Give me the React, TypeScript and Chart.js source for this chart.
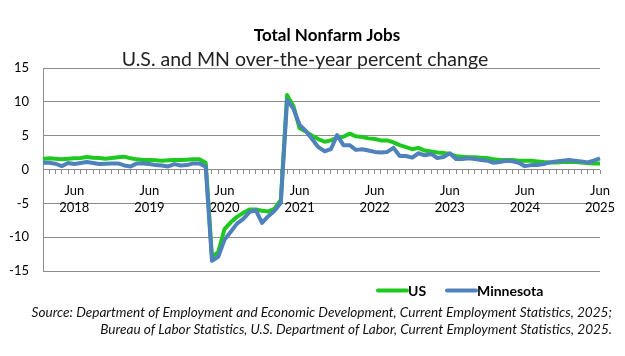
import { useEffect, useRef } from 'react';
import { Chart, registerables } from 'chart.js';

Chart.register(...registerables);

const years = [2018, 2019, 2020, 2021, 2022, 2023, 2024, 2025];
const monthNames = ['Jan', 'Feb', 'Mar', 'Apr', 'May', 'Jun', 'Jul', 'Aug', 'Sep', 'Oct', 'Nov', 'Dec'];
const lastMonthOf2025 = 6;

const categories: string[] = [];
years.forEach((y) =>
  monthNames.forEach((m, k) => {
    if (y < 2025 || k < lastMonthOf2025) categories.push(`${m} ${y}`);
  })
);

const usValues = [
  // 2018
  1.55, 1.65, 1.6, 1.5, 1.6, 1.65, 1.7, 1.85, 1.75, 1.7, 1.6, 1.7,
  // 2019
  1.8, 1.9, 1.65, 1.5, 1.4, 1.4, 1.35, 1.3, 1.35, 1.4, 1.4, 1.45,
  // 2020
  1.5, 1.5, 1.0, -12.9, -12.2, -8.8, -7.8, -7.0, -6.4, -5.9, -5.9, -6.1,
  // 2021
  -6.2, -5.8, -4.5, 11.0, 9.4, 6.1, 5.6, 5.0, 4.5, 4.1, 4.3, 4.7,
  // 2022
  4.85, 5.3, 4.9, 4.8, 4.6, 4.5, 4.3, 4.3, 4.0, 3.6, 3.3, 3.0,
  // 2023
  3.2, 2.8, 2.65, 2.5, 2.45, 2.3, 1.95, 1.9, 1.8, 1.8, 1.75, 1.7,
  // 2024
  1.5, 1.4, 1.4, 1.4, 1.3, 1.3, 1.3, 1.2, 1.1, 1.05, 1.05, 1.1,
  // 2025
  1.15, 1.1, 1.05, 0.95, 0.9, 0.9,
];

const mnValues = [
  // 2018
  1.0, 1.0, 0.85, 0.5, 0.95, 0.8, 0.95, 1.1, 0.95, 0.8, 0.85, 0.9,
  // 2019
  0.9, 0.6, 0.45, 0.9, 0.9, 0.8, 0.65, 0.6, 0.45, 0.8, 0.6, 0.65,
  // 2020
  0.9, 0.9, 0.4, -13.5, -12.9, -10.4, -9.2, -8.0, -7.3, -6.3, -6.0, -7.9,
  // 2021
  -6.9, -6.1, -4.9, 10.3, 9.0, 6.6, 5.7, 4.5, 3.3, 2.7, 3.0, 5.1,
  // 2022
  3.6, 3.6, 2.9, 3.0, 2.8, 2.6, 2.5, 2.6, 3.2, 2.0, 2.0, 1.75,
  // 2023
  2.4, 2.1, 2.3, 1.7, 1.85, 2.4, 1.55, 1.55, 1.65, 1.55, 1.4, 1.3,
  // 2024
  1.0, 1.1, 1.3, 1.2, 1.0, 0.5, 0.65, 0.65, 0.8, 1.05, 1.2, 1.3,
  // 2025
  1.4, 1.3, 1.2, 1.05, 1.3, 1.65,
];

const seriesNames = ['US', 'Minnesota'];
const titleText = 'Total Nonfarm Jobs';
const subtitleText = 'U.S. and MN over-the-year percent change';
const sourceLines = [
  'Source: Department of Employment and Economic Development, Current Employment Statistics, 2025;',
  'Bureau of Labor Statistics, U.S. Department of Labor, Current Employment Statistics, 2025.',
];

const GREEN = '#1fc81f';
const BLUE = '#4f81bd';
const GRID = '#8c8c8c';
const FONT = 'Lato, "Open Sans", sans-serif';

const textPlugin = {
  id: 'textPlugin',
  afterDraw(chart: any) {
    const ctx = chart.ctx as CanvasRenderingContext2D;
    ctx.save();
    ctx.fillStyle = '#000';
    ctx.textBaseline = 'alphabetic';
    ctx.textAlign = 'center';
    ctx.font = `bold 17px ${FONT}`;
    ctx.fillText(titleText, 327, 41);
    ctx.fillStyle = '#222';
    ctx.font = `19.5px ${FONT}`;
    ctx.fillText(subtitleText, 305, 66);

    // legend
    const items = [
      { x: 378, color: GREEN, label: seriesNames[0] },
      { x: 447, color: BLUE, label: seriesNames[1] },
    ];
    ctx.textAlign = 'left';
    ctx.font = `bold 14px ${FONT}`;
    items.forEach((it) => {
      ctx.strokeStyle = it.color;
      ctx.lineWidth = 4;
      ctx.lineCap = 'round';
      ctx.beginPath();
      ctx.moveTo(it.x, 290.5);
      ctx.lineTo(it.x + 29, 290.5);
      ctx.stroke();
      ctx.fillStyle = '#000';
      ctx.fillText(it.label, it.x + 30, 295.5);
    });

    // source
    ctx.textAlign = 'right';
    ctx.fillStyle = '#111';
    ctx.font = `italic 13.6px ${FONT}`;
    ctx.fillText(sourceLines[0], 612, 317);
    ctx.fillText(sourceLines[1], 612, 334);
    ctx.restore();
  },
};

export default function App() {
  const canvasRef = useRef<HTMLCanvasElement | null>(null);

  useEffect(() => {
    if (!canvasRef.current) return;
    const chart = new Chart(canvasRef.current, {
      type: 'line',
      data: {
        labels: categories,
        datasets: [
          {
            label: seriesNames[0],
            data: usValues,
            borderColor: GREEN,
            backgroundColor: GREEN,
            borderWidth: 4,
            pointRadius: 0,
            tension: 0,
            fill: false,
            borderJoinStyle: 'round',
            order: 2,
          },
          {
            label: seriesNames[1],
            data: mnValues,
            borderColor: BLUE,
            backgroundColor: BLUE,
            borderWidth: 4,
            pointRadius: 0,
            tension: 0,
            fill: false,
            borderJoinStyle: 'round',
            order: 1,
          },
        ],
      },
      options: {
        responsive: false,
        animation: false,
        layout: { padding: { left: 0, right: 25, top: 68, bottom: 85 } },
        plugins: {
          legend: { display: false },
          title: { display: false },
          tooltip: { enabled: false },
        },
        scales: {
          x: {
            type: 'category',
            position: { y: 0 },
            offset: false,
            grid: { drawOnChartArea: false, drawTicks: true, tickLength: 4, color: GRID },
            border: { display: false },
            ticks: {
              autoSkip: false,
              maxRotation: 0,
              minRotation: 0,
              padding: 9,
              color: '#000',
              font: { family: FONT, size: 13, lineHeight: 1.3 },
              callback: (_v: any, i: number) => {
                const [m, y] = categories[i].split(' ');
                return m === 'Jun' ? ['Jun', y] : '';
              },
            },
          },
          y: {
            min: -15,
            max: 15,
            ticks: { stepSize: 5, padding: 14, color: '#000', font: { family: FONT, size: 13 } },
            grid: { color: GRID, drawTicks: false },
            border: { display: true, color: GRID },
            afterFit: (s: any) => {
              s.width = 43;
            },
          },
        },
      },
      plugins: [textPlugin],
    });
    return () => chart.destroy();
  }, []);

  return (
    <div style={{ position: 'fixed', left: 0, top: 0, width: 625, height: 356, background: '#fff' }}>
      <canvas ref={canvasRef} width={625} height={356} />
    </div>
  );
}
